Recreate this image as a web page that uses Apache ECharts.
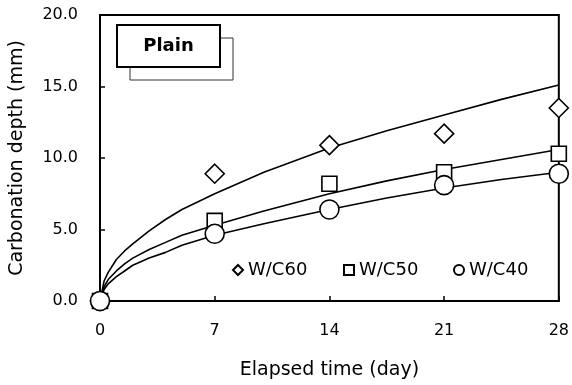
<!DOCTYPE html>
<html>
<head>
<meta charset="utf-8">
<script src="https://cdn.jsdelivr.net/npm/echarts@6/dist/echarts.min.js"></script>
<style>
  html, body { margin: 0; padding: 0; background: #fff; }
  #chart { width: 572px; height: 385px; }
</style>
</head>
<body>
<div id="chart"></div>
<script>
// Measured carbonation depth (mm) at each age (days)
const ages = [0, 7, 14, 21, 28];
const wc60 = [0, 8.9, 10.9, 11.7, 13.5];
const wc50 = [0, 5.6, 8.2, 9.0, 10.3];
const wc40 = [0, 4.7, 6.4, 8.1, 8.9];

// Predicted depth curves, sampled along the elapsed time
const curveTime = [0, 0.25, 0.5, 1, 1.5, 2, 3, 4, 5, 7, 10, 14, 17.5, 21, 24.5, 28];
const curve60 = [0, 1.4, 2.0, 2.9, 3.5, 4.0, 4.9, 5.7, 6.4, 7.5, 9.0, 10.7, 11.9, 13.0, 14.1, 15.1];
const curve50 = [0, 1.0, 1.5, 2.1, 2.6, 3.0, 3.6, 4.1, 4.6, 5.3, 6.3, 7.5, 8.4, 9.2, 9.9, 10.6];
const curve40 = [0, 0.8, 1.2, 1.7, 2.1, 2.5, 3.0, 3.4, 3.9, 4.6, 5.4, 6.4, 7.2, 7.9, 8.5, 9.0];

const xTicks = [0, 7, 14, 21, 28];
const yTicks = [0, 5, 10, 15, 20];

const FONT = 'DejaVu Sans';
const pair = (xs, ys) => xs.map((x, i) => [x, ys[i]]);

const chart = echarts.init(document.getElementById('chart'), null, { renderer: 'canvas' });

function curve(name, xs, ys) {
  return {
    name: name,
    type: 'line',
    data: pair(xs, ys),
    showSymbol: false,
    symbol: 'none',
    smooth: false,
    lineStyle: { color: '#000', width: 1.6, join: 'round' },
    z: 2,
    silent: true
  };
}

function points(name, symbol, size, ys, z) {
  return {
    name: name,
    type: 'scatter',
    data: pair(ages, ys),
    symbol: symbol,
    symbolSize: size,
    clip: false,
    itemStyle: { color: '#fff', borderColor: '#000', borderWidth: 1.6, opacity: 1 },
    z: z
  };
}

function legendAt(left, name) {
  return {
    left: left,
    top: 261,
    padding: 0,
    itemWidth: 10,
    itemHeight: 10,
    itemGap: 0,
    data: [name],
    selectedMode: false,
    itemStyle: { borderWidth: 2, borderColor: '#000', color: '#fff' },
    textStyle: { fontFamily: FONT, fontSize: 18, color: '#000', padding: [0, 0, 0, 0] }
  };
}

chart.setOption({
  animation: false,
  backgroundColor: '#fff',
  grid: {
    left: 100, right: 13, top: 15, bottom: 84,
    show: true, borderColor: '#000', borderWidth: 2, backgroundColor: 'transparent'
  },
  xAxis: {
    type: 'value',
    min: 0, max: 28, interval: 7,
    name: 'Elapsed time (day)',
    nameLocation: 'middle',
    nameGap: 60,
    nameTextStyle: { fontFamily: FONT, fontSize: 19, color: '#000' },
    axisLine: { show: true, onZero: false, lineStyle: { color: '#000', width: 2 } },
    axisTick: { show: true, inside: true, length: 5, lineStyle: { color: '#000', width: 1.5 } },
    axisLabel: {
      fontFamily: FONT, fontSize: 16, color: '#000', margin: 22,
      formatter: v => (xTicks.indexOf(v) >= 0 ? String(v) : '')
    },
    splitLine: { show: false }
  },
  yAxis: {
    type: 'value',
    min: 0, max: 20, interval: 5,
    name: 'Carbonation depth (mm)',
    nameLocation: 'middle',
    nameGap: 73,
    nameTextStyle: { fontFamily: FONT, fontSize: 19, color: '#000' },
    axisLine: { show: true, onZero: false, lineStyle: { color: '#000', width: 2 } },
    axisTick: { show: true, inside: true, length: 5, lineStyle: { color: '#000', width: 1.5 } },
    axisLabel: {
      fontFamily: FONT, fontSize: 16, color: '#000', margin: 22,
      formatter: v => (yTicks.indexOf(v) >= 0 ? v.toFixed(1) : '')
    },
    splitLine: { show: false }
  },
  legend: [
    legendAt(232, 'W/C60'),
    legendAt(343, 'W/C50'),
    legendAt(453, 'W/C40')
  ],
  graphic: [
    {
      type: 'rect',
      shape: { x: 130, y: 38, width: 103, height: 42 },
      style: { fill: '#fff', stroke: '#333', lineWidth: 1 },
      z: 10
    },
    {
      type: 'rect',
      shape: { x: 117, y: 25, width: 103, height: 42 },
      style: { fill: '#fff', stroke: '#000', lineWidth: 2 },
      z: 11
    },
    {
      type: 'text',
      x: 168.5, y: 46,
      style: {
        text: 'Plain', fontFamily: FONT, fontSize: 18, fontWeight: 'bold',
        fill: '#000', align: 'center', verticalAlign: 'middle'
      },
      z: 12
    }
  ],
  series: [
    curve('W/C60 curve', curveTime, curve60),
    curve('W/C50 curve', curveTime, curve50),
    curve('W/C40 curve', curveTime, curve40),
    points('W/C60', 'diamond', [19, 19], wc60, 5),
    points('W/C50', 'rect', [15, 15], wc50, 6),
    points('W/C40', 'circle', 19, wc40, 7)
  ]
});
</script>
</body>
</html>
